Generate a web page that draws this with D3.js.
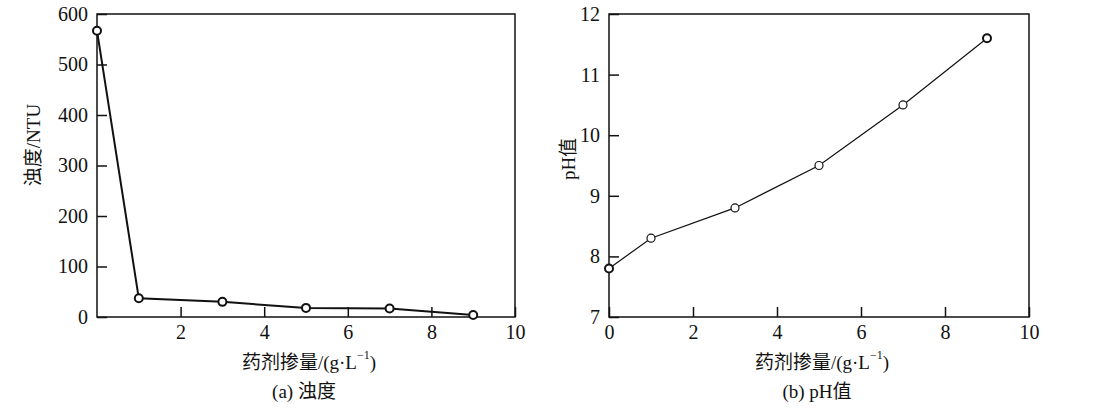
<!DOCTYPE html>
<html><head><meta charset="utf-8">
<script src="https://cdn.jsdelivr.net/npm/d3@7"></script>
<style>
body{margin:0;background:#fff;}
</style></head>
<body><svg id="c" width="1101" height="413"></svg>
<script>
const dosage = [0, 1, 3, 5, 7, 9];
const turbidity = [567, 37, 30, 18, 17, 4];
const phValues = [7.8, 8.3, 8.8, 9.5, 10.5, 11.6];
const turbTicksX = [2, 4, 6, 8, 10];
const turbTicksY = [0, 100, 200, 300, 400, 500, 600];
const phTicksX = [0, 2, 4, 6, 8, 10];
const phTicksY = [7, 8, 9, 10, 11, 12];

const FONT = "'Liberation Serif', 'Times New Roman', 'Noto Sans CJK SC', serif";
const svg = d3.select("#c");

function panel(opt){
  const g = svg.append("g");
  const x = d3.scaleLinear().domain([0,10]).range([opt.left, opt.right]);
  const y = d3.scaleLinear().domain(opt.yDomain).range([317, 14]);
  g.append("rect").attr("x",opt.left).attr("y",14).attr("width",opt.right-opt.left).attr("height",303)
    .attr("fill","none").attr("stroke","#111").attr("stroke-width",1.5);
  const xa = d3.axisBottom(x).tickValues(opt.xTicks).tickSizeInner(-10).tickSizeOuter(0).tickPadding(6).tickFormat(d3.format("d"));
  const gx = g.append("g").attr("transform","translate(0,317)").call(xa);
  gx.select(".domain").remove();
  gx.selectAll("line").attr("stroke","#111").attr("stroke-width",1.5);
  gx.selectAll("text").style("font-family",FONT).attr("font-size",20).attr("fill","#111").attr("dy","0.8em");
  const ya = d3.axisLeft(y).tickValues(opt.yTicks).tickSizeInner(-10).tickSizeOuter(0).tickPadding(9).tickFormat(d3.format("d"));
  const gy = g.append("g").attr("transform",`translate(${opt.left},0)`).call(ya);
  gy.select(".domain").remove();
  gy.selectAll("line").attr("stroke","#111").attr("stroke-width",1.5);
  gy.selectAll("text").style("font-family",FONT).attr("font-size",20).attr("fill","#111");
  const line = d3.line().x((d,i)=>x(dosage[i])).y(d=>y(d));
  g.append("path").datum(opt.values).attr("d",line).attr("fill","none")
    .attr("stroke","#111").attr("stroke-width",opt.lw);
  g.selectAll("circle.m").data(opt.values).join("circle")
    .attr("cx",(d,i)=>x(dosage[i])).attr("cy",d=>y(d)).attr("r",4)
    .attr("fill","#fff").attr("stroke","#111")
    .attr("stroke-width",(d,i)=>opt.mw(i));
  const cx = (opt.left+opt.right)/2;
  g.append("text").attr("transform",`translate(${opt.ylabX},${opt.ylabY}) rotate(-90)`)
    .style("font-family",FONT).attr("fill","#111")
    .attr("text-anchor","middle").attr("dominant-baseline","central").attr("font-size",19).text(opt.ylab);
  const xl = g.append("text").attr("x",cx+3).attr("y",362).attr("text-anchor","middle")
    .style("font-family",FONT).attr("fill","#111")
    .attr("dominant-baseline","central").attr("font-size",19);
  xl.append("tspan").text("药剂掺量/(g·L");
  xl.append("tspan").attr("font-size",12).attr("dy",-7).text("−1");
  xl.append("tspan").attr("dy",7).text(")");
  g.append("text").attr("x",cx-2).attr("y",391).attr("text-anchor","middle")
    .style("font-family",FONT).attr("fill","#111")
    .attr("dominant-baseline","central").attr("font-size",19).text(opt.sub);
}

panel({left:97,right:515,yDomain:[0,600],xTicks:turbTicksX,yTicks:turbTicksY,values:turbidity,
  lw:2,mw:()=>2,ylab:"浊度/NTU",ylabX:33,ylabY:145,sub:"(a) 浊度"});
panel({left:609,right:1029,yDomain:[7,12],xTicks:phTicksX,yTicks:phTicksY,values:phValues,
  lw:1.2,mw:(i)=>(i===0||i===phValues.length-1)?2:1.2,ylab:"pH值",ylabX:568,ylabY:159,sub:"(b) pH值"});
</script></body></html>
